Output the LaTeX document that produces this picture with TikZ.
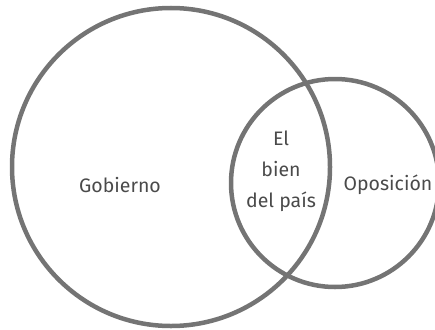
\documentclass[tikz,border=0pt]{standalone}
\usepackage{fontspec}
\setmainfont{Fira Sans}
\usetikzlibrary{positioning}
\definecolor{ringgray}{HTML}{747474}
\definecolor{textgray}{HTML}{4A4A4A}

\begin{document}
\begin{tikzpicture}
[
	              x = 1pt,
	              y = -1pt,
	   ring/.style = { draw=ringgray, line width=4.5pt, circle, inner sep=0pt, fill=none },
	   word/.style = { draw=none, fill=none, text=textgray, font=\fontsize{19.5}{31}\selectfont, align=center }
]

    \useasboundingbox (0,0) rectangle (435,329);

    \node (Gobierno)        at (171,167) [ring, minimum size=318pt] {};
    \node (Oposicion)       at (335,183) [ring, minimum size=208pt] {};

    \node (GobiernoLabel)   at (120,185) [word]    {Gobierno};
    \node (OposicionLabel)  at (388,185) [word]    {Oposición};
    \node (BienLabel)       at (281,171) [word]    {El\\bien\\del país};

\end{tikzpicture}
\end{document}
